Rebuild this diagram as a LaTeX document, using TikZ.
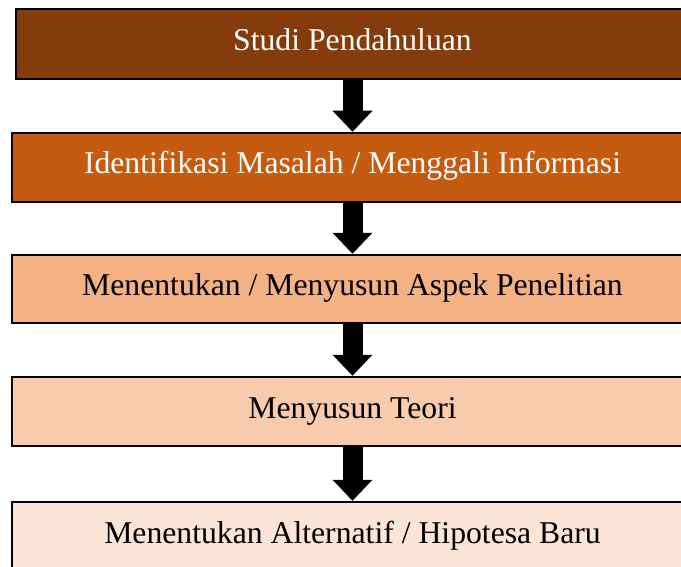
\documentclass[tikz,border=0pt]{standalone}
\usepackage{fontspec}
\setmainfont{Liberation Serif}
\usetikzlibrary{arrows.meta}
\definecolor{c1}{HTML}{843C0C}
\definecolor{c2}{HTML}{C55A11}
\definecolor{c3}{HTML}{F4B183}
\definecolor{c4}{HTML}{F8CBAD}
\definecolor{c5}{HTML}{FBE5D6}
\tikzset{
  stagebox/.style={draw=black, line width=2.5bp, rectangle, inner sep=0pt,
    minimum width=681bp, text depth=7.5bp, text height=20.5bp,
    font=\fontsize{31.7bp}{38bp}\selectfont},
  flowarrow/.style={draw=black, line width=20bp,
    -{Triangle[width=40bp, length=21bp, line width=0pt]}}
}
\begin{document}
\begin{tikzpicture}[x=1bp, y=-1bp]
\useasboundingbox (0,0) rectangle (681,567);
\node[stagebox, fill=c1, text=white, minimum width=673bp, minimum height=70bp] (b1) at (352.5,44) {Studi Pendahuluan};
\node[stagebox, fill=c2, text=white, minimum height=69bp] (b2) at (352.5,167.5) {Identifikasi Masalah / Menggali Informasi};
\node[stagebox, fill=c3, minimum height=68bp] (b3) at (352.5,289) {Menentukan / Menyusun Aspek Penelitian};
\node[stagebox, fill=c4, minimum height=69bp] (b4) at (352.5,411.5) {Menyusun Teori};
\node[stagebox, fill=c5, minimum height=70bp] (b5) at (352.5,537) {Menentukan Alternatif / Hipotesa Baru};
\draw[flowarrow] (b1.south) -- (b2.north);
\draw[flowarrow] (b2.south) -- (b3.north);
\draw[flowarrow] (b3.south) -- (b4.north);
\draw[flowarrow] (b4.south) -- (b5.north);
\end{tikzpicture}
\end{document}
